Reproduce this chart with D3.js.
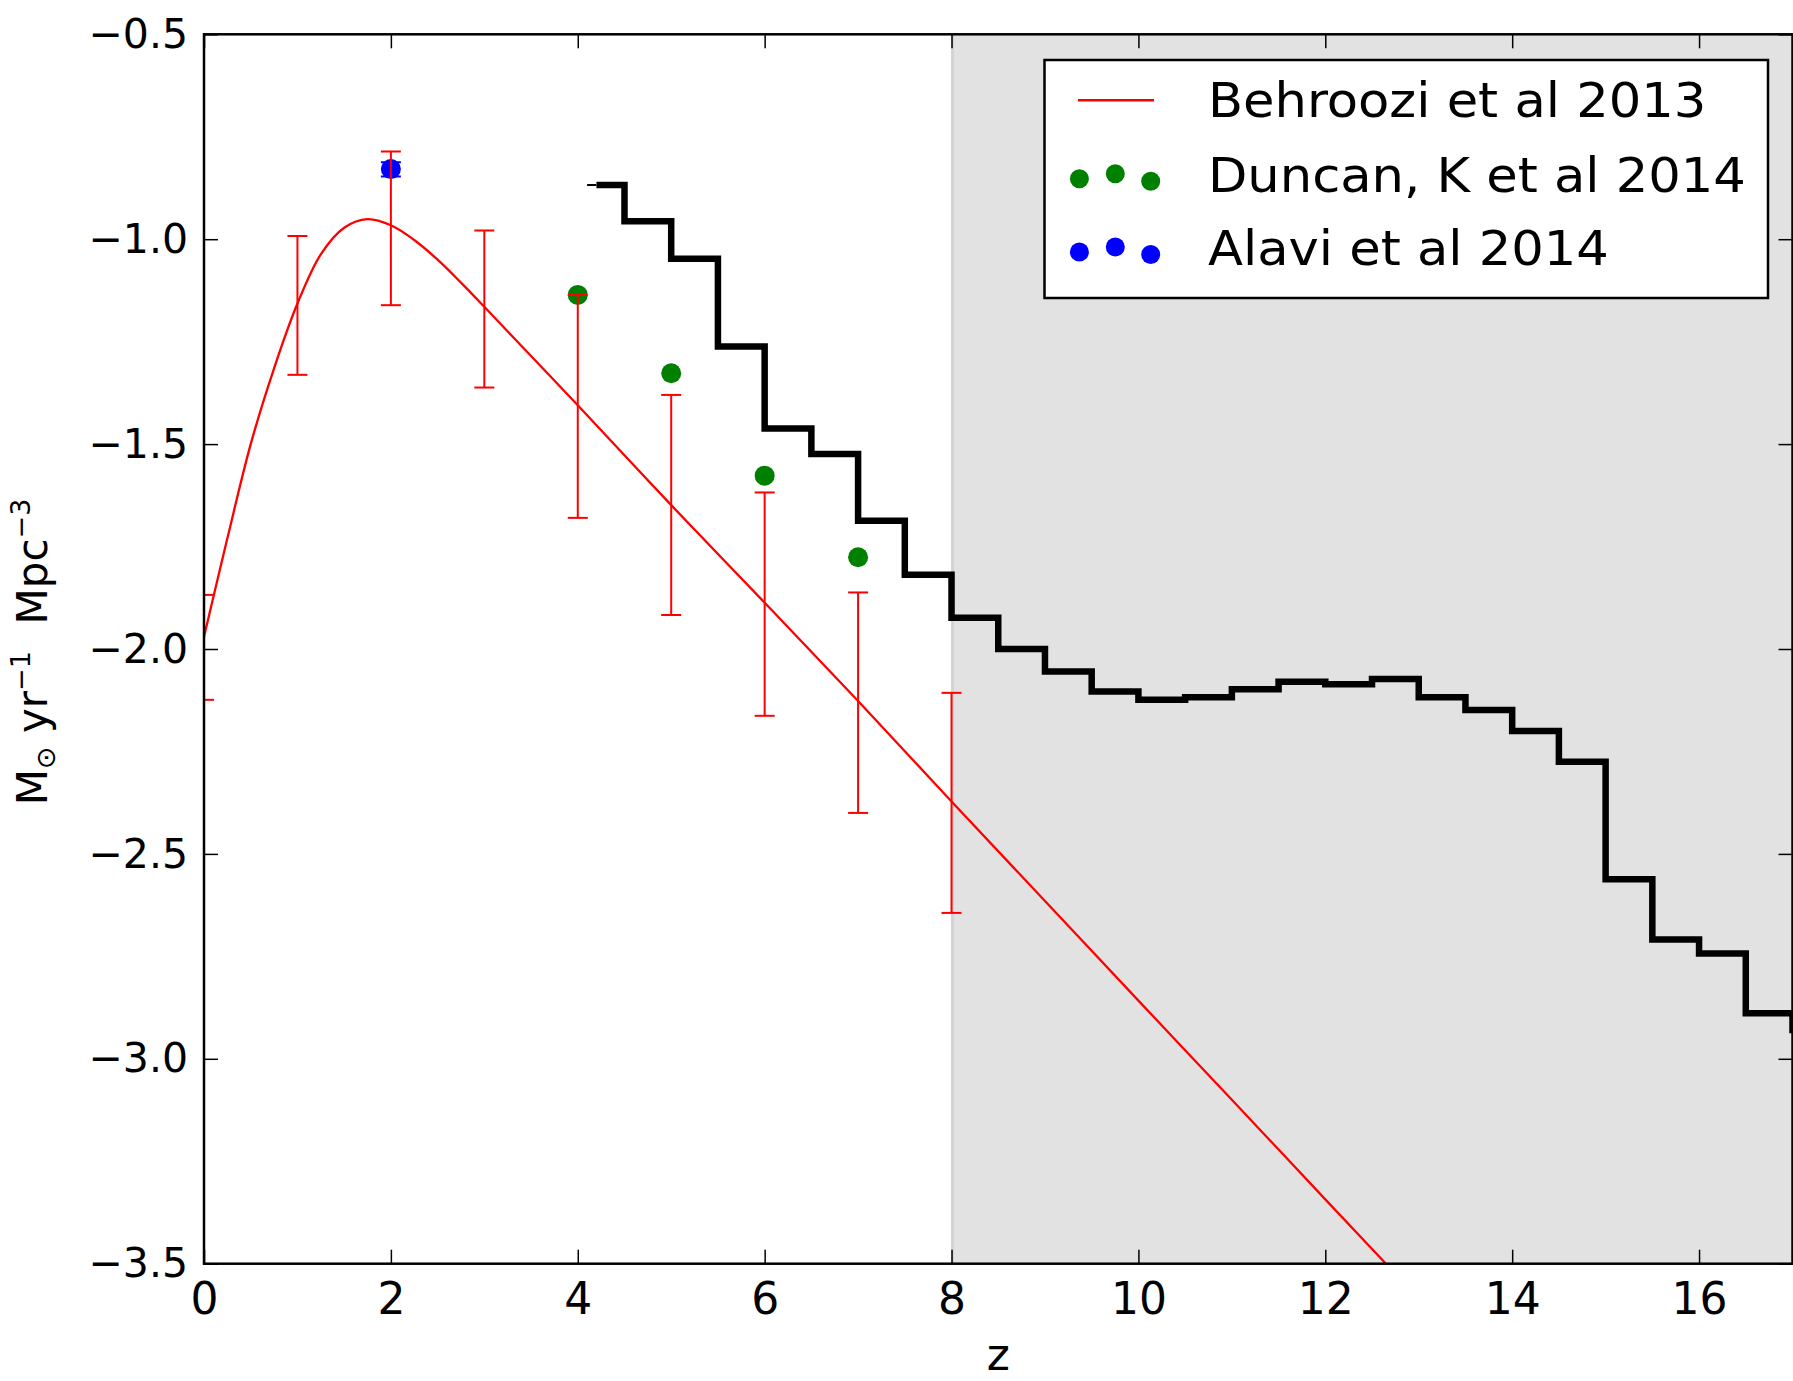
<!DOCTYPE html>
<html><head><meta charset="utf-8">
<script src="https://cdn.jsdelivr.net/npm/d3@7"></script>
<style>
body{margin:0;background:#fff;}
svg{display:block;}
text{font-family:"DejaVu Sans","Liberation Sans",sans-serif;fill:#000;white-space:pre;}
</style>
</head><body>
<svg id="chart" width="1793" height="1381"></svg>
<script>
// ---------------- data ----------------
const behrooziZ = [0, 0.25, 0.5, 0.75, 1.0, 1.25, 1.5, 1.75, 2.0, 2.25, 2.5, 2.75, 3.0, 3.5, 4.0, 5.0, 6.0, 7.0, 8.0, 9.0, 10.0, 11.0, 12.0, 13.0];
const behrooziV = [-1.97, -1.73, -1.50, -1.315, -1.157, -1.037, -0.972, -0.951, -0.966, -1.002, -1.050, -1.106, -1.165, -1.285, -1.405, -1.649, -1.887, -2.127, -2.372, -2.615, -2.858, -3.10, -3.343, -3.585];

const errZ     = [0, 1, 2, 3, 4, 5, 6, 7, 8];
const errUpper = [-1.868, -0.992, -0.786, -0.979, -1.136, -1.380, -1.618, -1.862, -2.107];
const errLower = [-2.124, -1.331, -1.161, -1.362, -1.680, -1.917, -2.163, -2.400, -2.644];

const duncanZ = [4, 5, 6, 7];
const duncanV = [-1.136, -1.327, -1.577, -1.776];

const alaviZ = [2];
const alaviV = [-0.829];
const alaviUpper = [-0.812];
const alaviLower = [-0.847];

const stepStub = 4.1;
const stepEdges  = [4.2, 4.5, 5.0, 5.5, 6.0, 6.5, 7.0, 7.5, 8.0, 8.5, 9.0, 9.5, 10.0, 10.5, 11.0, 11.5, 12.0, 12.5, 13.0, 13.5, 14.0, 14.5, 15.0, 15.5, 16.0, 16.5, 17.0, 17.5];
const stepValues = [-0.868, -0.956, -1.048, -1.262, -1.462, -1.524, -1.687, -1.819, -1.924, -2.000, -2.055, -2.104, -2.124, -2.118, -2.098, -2.080, -2.086, -2.073, -2.118, -2.149, -2.200, -2.275, -2.562, -2.709, -2.743, -2.889, -2.930];

const shadeRange = [8, 17];
const xDomain = [0, 17];
const yDomain = [-3.5, -0.5];
const xTicks = [0, 2, 4, 6, 8, 10, 12, 14, 16];
const yTicks = [-3.5, -3.0, -2.5, -2.0, -1.5, -1.0, -0.5];

const legendLabels = ["Behroozi et al 2013", "Duncan, K et al 2014", "Alavi et al 2014"];
const xLabel = "z";

// ---------------- layout ----------------
const svg = d3.select("#chart");
const L = 204, R = 1792.5, T = 34.3, B = 1263.7;
const x = d3.scaleLinear().domain(xDomain).range([L, R]);
const y = d3.scaleLinear().domain(yDomain).range([B, T]);

svg.append("rect").attr("width", 1793).attr("height", 1381).attr("fill", "#fff");

svg.append("defs").append("clipPath").attr("id", "plotclip")
  .append("rect").attr("x", L).attr("y", T).attr("width", R - L).attr("height", B - T);

const plot = svg.append("g").attr("clip-path", "url(#plotclip)");

// shaded region
plot.append("rect")
  .attr("x", x(shadeRange[0])).attr("y", T)
  .attr("width", x(shadeRange[1]) - x(shadeRange[0]) + 5).attr("height", B - T)
  .attr("fill", "#e2e2e2");
plot.append("line")
  .attr("x1", x(shadeRange[0]) + 1).attr("x2", x(shadeRange[0]) + 1)
  .attr("y1", T).attr("y2", B)
  .attr("stroke", "#d3d3d3").attr("stroke-width", 3);

// scatter points (below lines)
const dotR = 10;
plot.selectAll(".duncan").data(duncanZ).enter().append("circle")
  .attr("cx", d => x(d)).attr("cy", (d, i) => y(duncanV[i])).attr("r", dotR)
  .attr("fill", "#008000");
plot.selectAll(".alavi").data(alaviZ).enter().append("circle")
  .attr("cx", d => x(d)).attr("cy", (d, i) => y(alaviV[i])).attr("r", dotR)
  .attr("fill", "#0000ff");

// Alavi error bar
const capHalf = 10;
alaviZ.forEach((z, i) => {
  const g = plot.append("g").attr("stroke", "#0000ff").attr("stroke-width", 2);
  g.append("line").attr("x1", x(z)).attr("x2", x(z)).attr("y1", y(alaviUpper[i])).attr("y2", y(alaviLower[i]));
  [alaviUpper[i], alaviLower[i]].forEach(v => g.append("line")
    .attr("x1", x(z) - capHalf).attr("x2", x(z) + capHalf).attr("y1", y(v)).attr("y2", y(v)));
});

// Behroozi curve
const curveLine = d3.line().x(d => x(d[0])).y(d => y(d[1])).curve(d3.curveCatmullRom.alpha(0.5));
plot.append("path")
  .attr("d", curveLine(behrooziZ.map((z, i) => [z, behrooziV[i]])))
  .attr("fill", "none").attr("stroke", "#ff0000").attr("stroke-width", 2.3);

// red error bars
errZ.forEach((z, i) => {
  const g = plot.append("g").attr("stroke", "#ff0000").attr("stroke-width", 2);
  g.append("line").attr("x1", x(z)).attr("x2", x(z)).attr("y1", y(errUpper[i])).attr("y2", y(errLower[i]));
  [errUpper[i], errLower[i]].forEach(v => g.append("line")
    .attr("x1", x(z) - capHalf).attr("x2", x(z) + capHalf).attr("y1", y(v)).attr("y2", y(v)));
});

// black step line
const stepPts = [];
stepValues.forEach((v, i) => { stepPts.push([stepEdges[i], v]); stepPts.push([stepEdges[i + 1], v]); });
plot.append("line")
  .attr("x1", x(stepStub)).attr("x2", x(stepEdges[0]))
  .attr("y1", y(stepValues[0])).attr("y2", y(stepValues[0]))
  .attr("stroke", "#000").attr("stroke-width", 2);
plot.append("path")
  .attr("d", d3.line().x(d => x(d[0])).y(d => y(d[1]))(stepPts))
  .attr("fill", "none").attr("stroke", "#000").attr("stroke-width", 6.5)
  .attr("stroke-linejoin", "miter").attr("stroke-linecap", "butt");

// ---------------- axes ----------------
const tickLen = 14;
const axB = svg.append("g").attr("transform", `translate(0,${B})`)
  .call(d3.axisBottom(x).tickValues(xTicks).tickSize(-tickLen).tickSizeOuter(0).tickPadding(19).tickFormat(d3.format("d")));
const axT = svg.append("g").attr("transform", `translate(0,${T})`)
  .call(d3.axisTop(x).tickValues(xTicks).tickSize(-tickLen).tickSizeOuter(0).tickFormat(""));
const axLft = svg.append("g").attr("transform", `translate(${L},0)`)
  .call(d3.axisLeft(y).tickValues(yTicks).tickSize(-tickLen).tickSizeOuter(0).tickPadding(16).tickFormat(d3.format(".1f")));
const axRt = svg.append("g").attr("transform", `translate(${R},0)`)
  .call(d3.axisRight(y).tickValues(yTicks).tickSize(-tickLen).tickSizeOuter(0).tickFormat(""));
[axB, axT, axLft, axRt].forEach(a => {
  a.select(".domain").remove();
  a.selectAll(".tick line").attr("stroke", "#000").attr("stroke-width", 1.5);
  a.attr("font-family", null).attr("font-size", null);
});
axB.selectAll(".tick text").attr("font-size", 44).attr("fill", "#000");
axLft.selectAll(".tick text").attr("font-size", 41).attr("fill", "#000");

// frame
svg.append("rect").attr("x", L).attr("y", T).attr("width", R - L).attr("height", B - T)
  .attr("fill", "none").attr("stroke", "#000").attr("stroke-width", 2.5);

// axis labels
svg.append("text").attr("x", (L + R) / 2).attr("y", 1370).attr("text-anchor", "middle")
  .attr("font-size", 44).text(xLabel);

const yl = svg.append("text").attr("transform", "translate(47,652) rotate(-90)")
  .attr("text-anchor", "middle").attr("font-size", 42);
yl.append("tspan").text("M");
yl.append("tspan").attr("font-size", 27).attr("dy", 8).text("\u2299");
yl.append("tspan").attr("dy", -8).text(" yr");
yl.append("tspan").attr("font-size", 27).attr("dy", -17).text("\u22121");
yl.append("tspan").attr("dy", 17).text("  Mpc");
yl.append("tspan").attr("font-size", 27).attr("dy", -17).text("\u22123");

// ---------------- legend ----------------
const lg = svg.append("g");
lg.append("rect").attr("x", 1044.5).attr("y", 60).attr("width", 723.5).attr("height", 238)
  .attr("fill", "#fff").attr("stroke", "#000").attr("stroke-width", 2.5);
const rowBase = [117.3, 191.7, 265];
const markerX = [1079.4, 1115.3, 1150.7];
const markerDy = [4, -1, 6.5];
legendLabels.forEach((lab, i) => {
  const t = lg.append("text").attr("x", 1208).attr("y", rowBase[i]).attr("font-size", 48).text(lab);
  const w = t.node().getComputedTextLength();
  t.attr("textLength", w * 1.065).attr("lengthAdjust", "spacingAndGlyphs");
});
lg.append("line").attr("x1", 1078).attr("x2", 1154).attr("y1", rowBase[0] - 17).attr("y2", rowBase[0] - 17)
  .attr("stroke", "#ff0000").attr("stroke-width", 2.5);
["#008000", "#0000ff"].forEach((c, r) => {
  markerX.forEach((mx, j) => lg.append("circle").attr("cx", mx).attr("cy", rowBase[r + 1] - 17 + markerDy[j])
    .attr("r", 9.5).attr("fill", c));
});
</script>
</body></html>
